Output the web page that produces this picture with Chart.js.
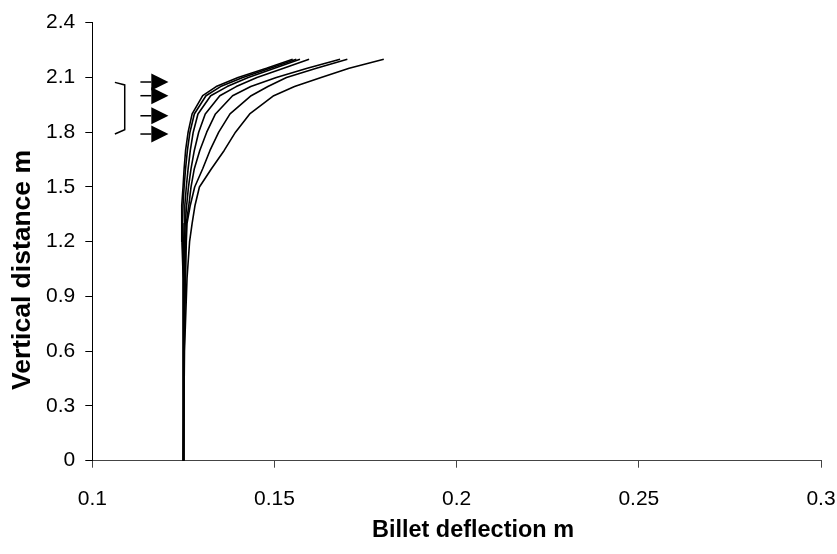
<!DOCTYPE html>
<html>
<head>
<meta charset="utf-8">
<script src="https://cdn.jsdelivr.net/npm/chart.js@4"></script>
<style>
body { margin: 0; background: #fff; }
#wrap { width: 837px; height: 554px; }
</style>
</head>
<body>
<div id="wrap"><canvas id="myChart" width="837" height="554"></canvas></div>
<script>
'use strict';

// heights along the billet (m), shared by every curve
let heights = [0, 0.6, 1.0, 1.2, 1.3, 1.4, 1.5, 1.6, 1.7, 1.8, 1.9, 2.0, 2.05, 2.1, 2.15, 2.2];

// deflection of each curve at those heights (m)
let deflection1 = [0.125, 0.125, 0.1249, 0.1246, 0.1245, 0.1246, 0.1249, 0.1252, 0.1256, 0.1263, 0.1274, 0.1303, 0.134, 0.14, 0.1478, 0.155];
let deflection2 = [0.125, 0.125, 0.1249, 0.1248, 0.1248, 0.1249, 0.1252, 0.1256, 0.1261, 0.1268, 0.128, 0.1312, 0.1352, 0.1413, 0.1488, 0.156];
let deflection3 = [0.125, 0.1251, 0.1251, 0.1251, 0.1252, 0.1254, 0.1258, 0.1263, 0.1269, 0.1277, 0.129, 0.1325, 0.137, 0.1428, 0.15, 0.157];
let deflection4 = [0.125, 0.1251, 0.1252, 0.1253, 0.1255, 0.1259, 0.1264, 0.1271, 0.128, 0.1292, 0.131, 0.135, 0.1395, 0.1452, 0.1525, 0.1595];
let deflection5 = [0.125, 0.1251, 0.1254, 0.1256, 0.1258, 0.1265, 0.1271, 0.128, 0.1295, 0.1314, 0.1338, 0.1385, 0.1435, 0.1505, 0.159, 0.168];
let deflection6 = [0.125, 0.1252, 0.1256, 0.1258, 0.126, 0.1269, 0.1281, 0.1303, 0.1323, 0.1347, 0.1378, 0.1436, 0.1482, 0.1533, 0.1615, 0.17];
let deflection7 = [0.125, 0.1253, 0.126, 0.1267, 0.1274, 0.1282, 0.1294, 0.1327, 0.1362, 0.1393, 0.1432, 0.1498, 0.1555, 0.1628, 0.1705, 0.18];
let allDeflections = [deflection1, deflection2, deflection3, deflection4, deflection5, deflection6, deflection7];

let xTicks = [0.1, 0.15, 0.2, 0.25, 0.3];
let xTickLabels = ['0.1', '0.15', '0.2', '0.25', '0.3'];
let yTicks = [0, 0.3, 0.6, 0.9, 1.2, 1.5, 1.8, 2.1, 2.4];
let yTickLabels = ['0', '0.3', '0.6', '0.9', '1.2', '1.5', '1.8', '2.1', '2.4'];
let xTitle = 'Billet deflection m';
let yTitle = 'Vertical distance m';

// bracket and roller arrows drawn left of the curves (data units)
let bracketX = [0.1062, 0.1089, 0.1089, 0.1062];
let bracketY = [2.073, 2.059, 1.814, 1.79];
let arrowHeights = [2.075, 2.0, 1.89, 1.79];
let arrowStart = 0.1132;
let arrowBase = 0.1162;
let arrowTip = 0.1209;

let datasets = [];
for (let i = 0; i < allDeflections.length; i++) {
    let pts = [];
    for (let j = 0; j < heights.length; j++) {
        pts.push({ x: allDeflections[i][j], y: heights[j] });
    }
    datasets.push({
        data: pts,
        showLine: true,
        borderColor: '#000',
        borderWidth: 1.6,
        borderJoinStyle: 'round',
        pointRadius: 0,
        tension: 0,
        fill: false
    });
}

// draw a text stretched/squeezed to a given length
function fitText(ctx, text, length) {
    let w = ctx.measureText(text).width;
    ctx.scale(length / w, 1);
    ctx.fillText(text, 0, 0);
}

let marksPlugin = {
    id: 'marks',
    afterDatasetsDraw(chart) {
        let ctx = chart.ctx;
        let xs = chart.scales.x;
        let ys = chart.scales.y;
        ctx.save();
        ctx.strokeStyle = '#000';
        ctx.fillStyle = '#000';
        ctx.lineWidth = 1.5;
        ctx.beginPath();
        for (let i = 0; i < bracketX.length; i++) {
            let px = xs.getPixelForValue(bracketX[i]);
            let py = ys.getPixelForValue(bracketY[i]);
            if (i === 0) ctx.moveTo(px, py); else ctx.lineTo(px, py);
        }
        ctx.stroke();

        for (let h of arrowHeights) {
            let py = ys.getPixelForValue(h);
            let x0 = xs.getPixelForValue(arrowStart);
            let x1 = xs.getPixelForValue(arrowBase);
            let x2 = xs.getPixelForValue(arrowTip);
            ctx.beginPath();
            ctx.moveTo(x0, py);
            ctx.lineTo(x1, py);
            ctx.stroke();
            ctx.beginPath();
            ctx.moveTo(x1, py - 8.5);
            ctx.lineTo(x2, py);
            ctx.lineTo(x1, py + 8.5);
            ctx.closePath();
            ctx.fill();
        }
        ctx.restore();

        // axis titles
        ctx.save();
        ctx.fillStyle = '#000';
        ctx.textAlign = 'center';
        ctx.textBaseline = 'middle';
        ctx.font = 'bold 24px "Liberation Sans", Arial';
        ctx.translate(473, 530);
        fitText(ctx, xTitle, 202);
        ctx.restore();

        ctx.save();
        ctx.fillStyle = '#000';
        ctx.textAlign = 'center';
        ctx.textBaseline = 'middle';
        ctx.font = 'bold 25px "Liberation Sans", Arial';
        ctx.translate(23, 270);
        ctx.rotate(-Math.PI / 2);
        fitText(ctx, yTitle, 240);
        ctx.restore();
    }
};

let tickFont = { family: '"Liberation Sans", Arial', size: 21 };

let ctx = document.getElementById('myChart').getContext('2d');
let myChart = new Chart(ctx, {
    type: 'scatter',
    data: { datasets: datasets },
    plugins: [marksPlugin],
    options: {
        responsive: false,
        animation: false,
        layout: { padding: { top: 22.7, right: 16, left: 0, bottom: 0 } },
        plugins: {
            legend: { display: false },
            tooltip: { enabled: false }
        },
        scales: {
            x: {
                type: 'linear',
                min: 0.1,
                max: 0.3,
                afterBuildTicks: s => { s.ticks = xTicks.map(v => ({ value: v })); },
                afterFit: s => { s.height = 93.3; s.paddingLeft = 0; s.paddingRight = 0; },
                ticks: {
                    callback: (v, i) => xTickLabels[i],
                    color: '#000',
                    font: tickFont,
                    padding: 19,
                    maxRotation: 0,
                    autoSkip: false
                },
                grid: { drawOnChartArea: false, tickLength: 7, color: '#444' },
                border: { color: '#444' }
            },
            y: {
                type: 'linear',
                min: 0,
                max: 2.4,
                afterBuildTicks: s => { s.ticks = yTicks.map(v => ({ value: v })); },
                afterFit: s => { s.width = 92.3; s.paddingTop = 0; s.paddingBottom = 0; },
                ticks: {
                    callback: (v, i) => yTickLabels[i],
                    color: '#000',
                    font: tickFont,
                    padding: 10,
                    autoSkip: false
                },
                grid: { drawOnChartArea: false, tickLength: 7, color: '#000' },
                border: { color: '#000' }
            }
        }
    }
});
</script>
</body>
</html>
